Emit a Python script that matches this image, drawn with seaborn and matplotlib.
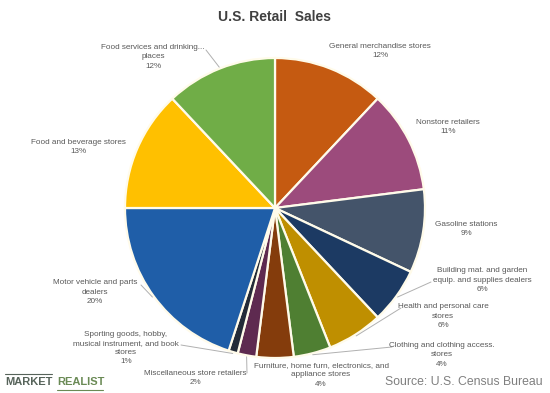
import numpy as np
import seaborn as sns
from matplotlib import pyplot as plt

# slices, clockwise from 12 o'clock
categories = ['General merchandise stores', 'Nonstore retailers', 'Gasoline stations',
              'Building mat. and garden equip. and supplies dealers',
              'Health and personal care stores', 'Clothing and clothing access. stores',
              'Furniture, home furn, electronics, and appliance stores',
              'Miscellaneous store retailers',
              'Sporting goods, hobby, musical instrument, and book stores',
              'Motor vehicle and parts dealers', 'Food and beverage stores',
              'Food services and drinking places']
shares = [12, 11, 9, 6, 6, 4, 4, 2, 1, 20, 13, 12]
label_text = ['General merchandise stores', 'Nonstore retailers', 'Gasoline stations',
              'Building mat. and garden\nequip. and supplies dealers',
              'Health and personal care\nstores', 'Clothing and clothing access.\nstores',
              'Furniture, home furn, electronics, and\nappliance stores',
              'Miscellaneous store retailers',
              'Sporting goods, hobby,\nmusical instrument, and book\nstores',
              'Motor vehicle and parts\ndealers', 'Food and beverage stores',
              'Food services and drinking...\nplaces']
colors = ['#C55A11', '#9C4B7C', '#44546A', '#1C3A63', '#BF8F00', '#4F7F32',
          '#843C0C', '#5E2A50', '#232B38', '#1F5EA8', '#FFC000', '#70AD47']

sns.set_theme(style='white')
plt.rcParams['font.family'] = ['Liberation Sans', 'DejaVu Sans']

W, H = 550, 393
CX, CY, R = 275, 208, 150
fig = plt.figure(figsize=(W / 100, H / 100), dpi=100)
fig.patch.set_facecolor('white')
ax = fig.add_axes([(CX - R) / W, (H - CY - R) / H, 2 * R / W, 2 * R / H])

wedges, _ = ax.pie(shares, colors=sns.color_palette(colors), startangle=90,
                   counterclock=False, radius=1,
                   wedgeprops=dict(edgecolor='#FFFBEA', linewidth=1.6))
ax.set_xlim(-1, 1)
ax.set_ylim(-1, 1)
ax.axis('off')


def to_data(px, py):
    return (px - CX) / R, (CY - py) / R


# label centre (px) and leader anchor (px or None)
label_pos = [(380, 51), (448, 127), (466, 229), (482, 280), (443, 316), (442, 355),
             (321, 375), (195, 378), (126, 348), (95, 292), (78, 147), (153, 57)]
leader_from = [None, None, None, (431, 282), (401, 308), (392, 347),
               None, (247, 373), (181, 345), (141, 285), None, (206, 50)]

for i, w in enumerate(wedges):
    txt = f'{label_text[i]}\n{shares[i]}%'
    x, y = to_data(*label_pos[i])
    ax.text(x, y, txt, ha='center', va='center', fontsize=5.9, color='#595959',
            linespacing=1.45)
    if leader_from[i] is not None:
        mid = np.deg2rad((w.theta1 + w.theta2) / 2)
        ex, ey = 1.01 * np.cos(mid), 1.01 * np.sin(mid)
        lx, ly = to_data(*leader_from[i])
        ax.plot([lx, ex], [ly, ey], color='#B0B0B0', linewidth=0.7, clip_on=False)

fig.text(0.5, 1 - 17 / H, 'U.S. Retail  Sales', ha='center', va='center',
         fontsize=10, fontweight='bold', color='#404040')
fig.text(543 / W, 1 - 382 / H, 'Source: U.S. Census Bureau', ha='right', va='center',
         fontsize=8.8, color='#7F7F7F')
fig.text(5 / W, 1 - 382 / H, 'MARKET', ha='left', va='center',
         fontsize=8, fontweight='bold', color='#56635A')
fig.text(57 / W, 1 - 382 / H, 'REALIST', ha='left', va='center',
         fontsize=8, fontweight='bold', color='#6A8A55')
fig.add_artist(plt.Line2D([5 / W, 52 / W], [1 - 374 / H, 1 - 374 / H],
                          color='#56635A', linewidth=0.8))
fig.add_artist(plt.Line2D([57 / W, 103 / W], [1 - 390 / H, 1 - 390 / H],
                          color='#6A8A55', linewidth=0.8))

fig.savefig('out.png', dpi=100)
